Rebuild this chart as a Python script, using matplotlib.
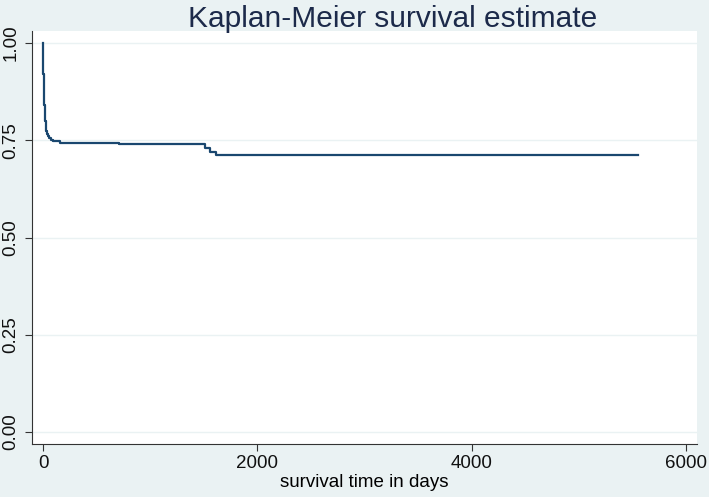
# km_plot.py
# recreate a Stata-style Kaplan-Meier survival curve

import matplotlib
matplotlib.use("Agg")
import matplotlib.pyplot as plt

# step times (days) and survival estimate after each step
times = [0, 2, 4, 6, 8, 10, 14, 18, 25, 32, 40, 50, 60, 75, 90, 160,
         710, 1515, 1560, 1610, 5554]
surv = [1.0, 0.96, 0.92, 0.89, 0.86, 0.84, 0.82, 0.80, 0.785, 0.775,
        0.767, 0.760, 0.755, 0.751, 0.748, 0.743, 0.7396, 0.7293,
        0.7206, 0.711, 0.711]

x_ticks = [0, 2000, 4000, 6000]
y_ticks = [0.0, 0.25, 0.50, 0.75, 1.00]
y_labels = ["0.00", "0.25", "0.50", "0.75", "1.00"]

BG = "#EAF2F3"
LINE = "#1A476F"
AXIS = "#333333"

plt.rcParams["font.family"] = ["Liberation Sans", "DejaVu Sans"]

fig = plt.figure(figsize=(7.09, 4.97), dpi=100, facecolor=BG)
ax = fig.add_axes([0.0451, 0.1066, 0.938, 0.831])
ax.set_facecolor("white")

ax.step(times, surv, where="post", color=LINE, linewidth=1.6)

ax.set_xlim(-103, 6102)
ax.set_ylim(-0.0308, 1.0308)

ax.set_xticks(x_ticks)
ax.set_xticklabels([str(t) for t in x_ticks])
ax.set_yticks(y_ticks)
ax.set_yticklabels(y_labels, rotation=90, va="center")

ax.grid(True, axis="y", color=BG, linewidth=1.0)
ax.set_axisbelow(True)

for side in ["top", "right"]:
    ax.spines[side].set_visible(False)
for side in ["left", "bottom"]:
    ax.spines[side].set_color(AXIS)
    ax.spines[side].set_linewidth(0.8)

ax.tick_params(axis="both", direction="out", length=5, width=0.8,
               color=AXIS, labelsize=13.5, labelcolor="#111111", pad=3)
ax.tick_params(axis="y", pad=4)

ax.set_xlabel("survival time in days", fontsize=13.5, labelpad=1)
# title sits a bit right of centre in the original
fig.text(392.5 / 709, 1 - 27 / 497, "Kaplan-Meier survival estimate",
         fontsize=21.5, color="#1C2A4A", ha="center", va="baseline")

plt.savefig("out.png", dpi=100, facecolor=BG)
plt.close()
